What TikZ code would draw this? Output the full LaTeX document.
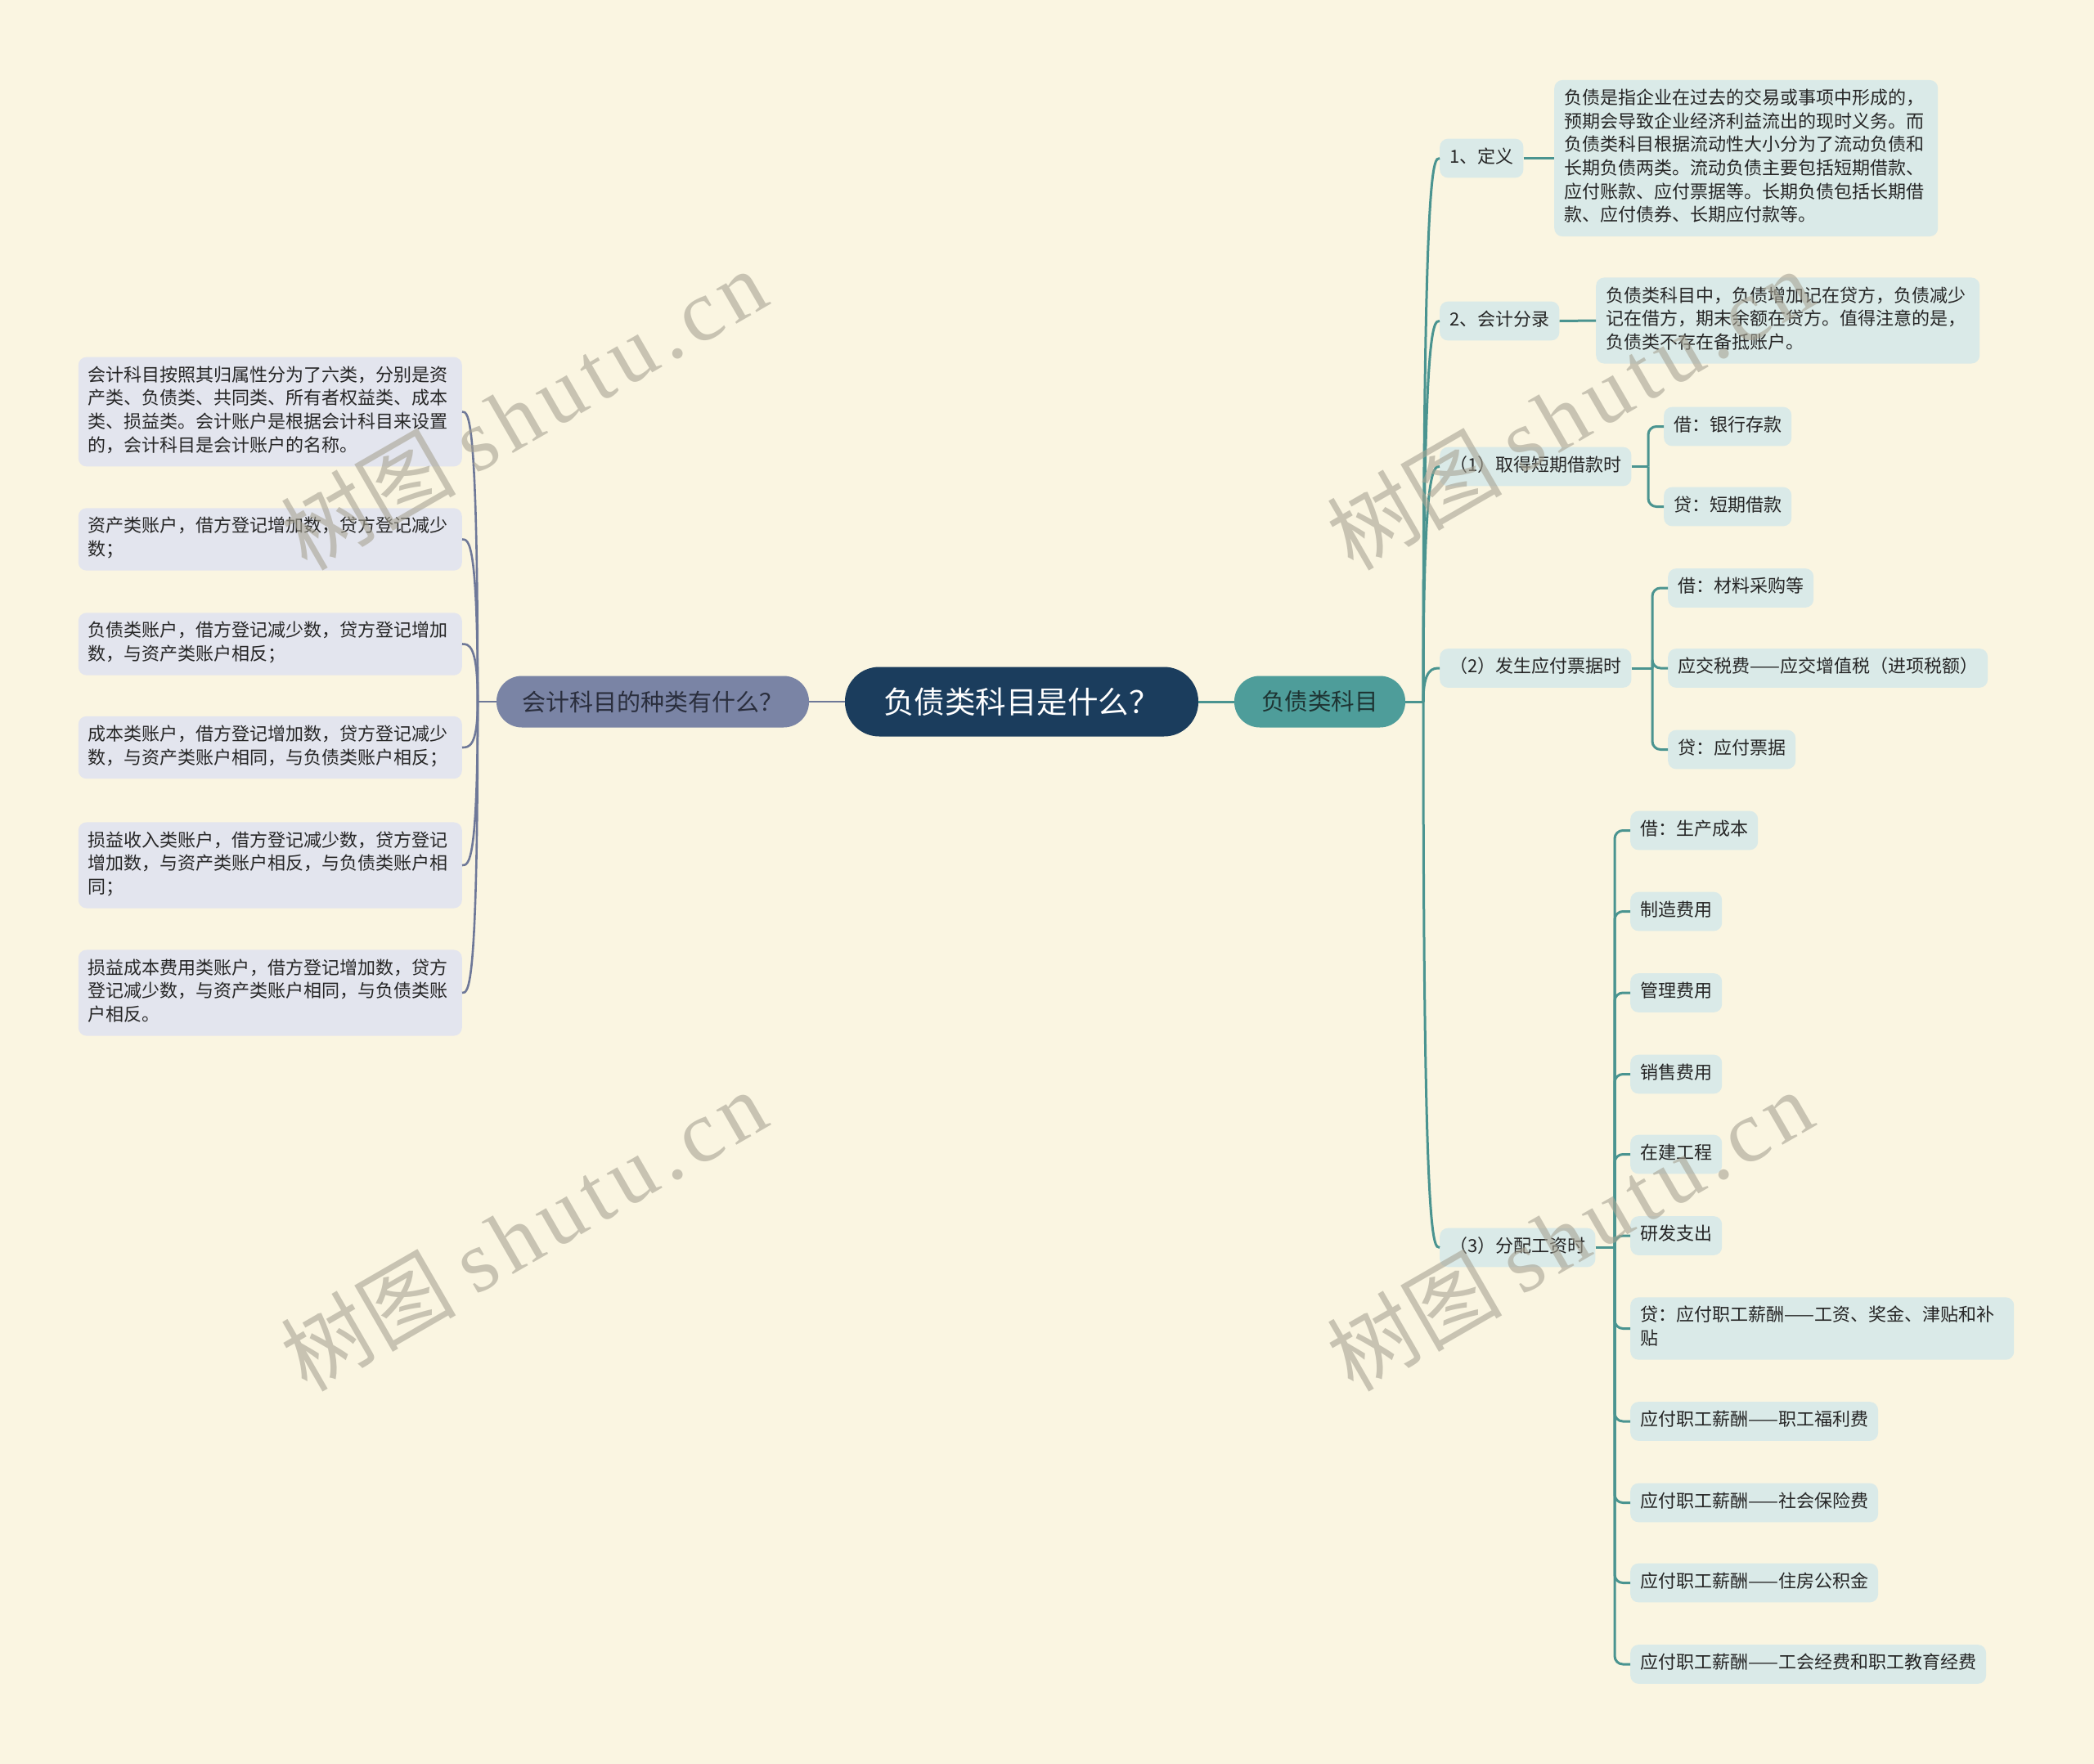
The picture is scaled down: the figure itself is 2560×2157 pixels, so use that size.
\documentclass[tikz,border=0pt]{standalone}
\usepackage{fontspec}
\setmainfont{Noto Sans CJK SC}
\newfontfamily\wmlatin[LetterSpace=8]{Liberation Serif}
\definecolor{bgc}{HTML}{FAF5E1}
\definecolor{cnavy}{HTML}{1B3D5D}
\definecolor{lmain}{HTML}{7A84A5}
\definecolor{lmaintxt}{HTML}{2A2E3D}
\definecolor{rmaintxt}{HTML}{1E3433}
\definecolor{lfill}{HTML}{E3E5EE}
\definecolor{llinec}{HTML}{6E7898}
\definecolor{rmain}{HTML}{4E9D9A}
\definecolor{rfill}{HTML}{DAEAE8}
\definecolor{rlinec}{HTML}{4A9490}
\definecolor{txt}{HTML}{262626}
\definecolor{wmc}{HTML}{A7A393}
\tikzset{
  central/.style={fill=cnavy, text=white, rounded corners=42pt, minimum width=432pt, minimum height=85pt, inner sep=0pt, font=\fontsize{37.5}{42}\selectfont},
  mainL/.style={fill=lmain, text=lmaintxt, rounded corners=31pt, minimum width=382pt, minimum height=63pt, inner sep=0pt, font=\fontsize{29}{33}\selectfont},
  mainR/.style={fill=rmain, text=rmaintxt, rounded corners=31pt, minimum width=209pt, minimum height=63pt, inner sep=0pt, font=\fontsize{28.5}{33}\selectfont},
  boxbase/.style={rounded corners=10pt, inner xsep=12pt, inner ysep=9.5pt, text=txt, font=\fontsize{22}{28.7}\selectfont, execute at begin node=\strut, execute at end node=\strut},
  leafL/.style={boxbase, fill=lfill, align=left, text width=445pt, anchor=east},
  rbox/.style={boxbase, fill=rfill, anchor=west},
  rwide/.style={rbox, align=left, text width=445pt},
  lline/.style={draw=llinec, line width=2.6pt},
  rline/.style={draw=rlinec, line width=3pt},
  wm/.style={rotate=30, text=wmc, text opacity=0.6, font=\fontsize{107}{112}\selectfont, inner sep=0pt}
}
\begin{document}
\begin{tikzpicture}[x=1pt,y=-1pt]
\fill[bgc] (0,0) rectangle (2560,2157);
\useasboundingbox (0,0) rectangle (2560,2157);

% main nodes
\node[central] (root) at (1249,858) {负债类科目是什么？};
\node[mainL] (L) at (798,858) {会计科目的种类有什么？};
\node[mainR] (R) at (1613.5,858) {负债类科目};

% left leaves
\node[leafL] (L1) at (565,503.5) {会计科目按照其归属性分为了六类，分别是资\\产类、负债类、共同类、所有者权益类、成本\\类、损益类。会计账户是根据会计科目来设置\\的，会计科目是会计账户的名称。};
\node[leafL] (L2) at (565,659.5) {资产类账户，借方登记增加数，贷方登记减少\\数；};
\node[leafL] (L3) at (565,787.5) {负债类账户，借方登记减少数，贷方登记增加\\数，与资产类账户相反；};
\node[leafL] (L4) at (565,914) {成本类账户，借方登记增加数，贷方登记减少\\数，与资产类账户相同，与负债类账户相反；};
\node[leafL] (L5) at (565,1058) {损益收入类账户，借方登记减少数，贷方登记\\增加数，与资产类账户相反，与负债类账户相\\同；};
\node[leafL] (L6) at (565,1214) {损益成本费用类账户，借方登记增加数，贷方\\登记减少数，与资产类账户相同，与负债类账\\户相反。};

% right level 1
\node[rbox] (r1) at (1760,193.5) {1、定义};
\node[rwide] (r1t) at (1900,193.5) {负债是指企业在过去的交易或事项中形成的，\\预期会导致企业经济利益流出的现时义务。而\\负债类科目根据流动性大小分为了流动负债和\\长期负债两类。流动负债主要包括短期借款、\\应付账款、应付票据等。长期负债包括长期借\\款、应付债券、长期应付款等。};
\node[rbox] (r2) at (1760,392.5) {2、会计分录};
\node[rwide] (r2t) at (1951,392) {负债类科目中，负债增加记在贷方，负债减少\\记在借方，期末余额在贷方。值得注意的是，\\负债类不存在备抵账户。};
\node[rbox] (r3) at (1760,570.5) {（1）取得短期借款时};
\node[rbox] (r3a) at (2034,521.5) {借：银行存款};
\node[rbox] (r3b) at (2034,619.5) {贷：短期借款};
\node[rbox] (r4) at (1760,817) {（2）发生应付票据时};
\node[rbox] (r4a) at (2039,719) {借：材料采购等};
\node[rbox] (r4b) at (2039,817) {应交税费——应交增值税（进项税额）};
\node[rbox] (r4c) at (2039,916.5) {贷：应付票据};
\node[rbox] (r5) at (1760,1525.5) {（3）分配工资时};
\node[rbox] (s1) at (1993,1015.5) {借：生产成本};
\node[rbox] (s2) at (1993,1114.5) {制造费用};
\node[rbox] (s3) at (1993,1214) {管理费用};
\node[rbox] (s4) at (1993,1313.5) {销售费用};
\node[rbox] (s5) at (1993,1411.5) {在建工程};
\node[rbox] (s6) at (1993,1511) {研发支出};
\node[rwide] (s7) at (1993,1624.5) {贷：应付职工薪酬——工资、奖金、津贴和补\\贴};
\node[rbox] (s8) at (1993,1738) {应付职工薪酬——职工福利费};
\node[rbox] (s9) at (1993,1837.5) {应付职工薪酬——社会保险费};
\node[rbox] (s10) at (1993,1935.5) {应付职工薪酬——住房公积金};
\node[rbox] (s11) at (1993,2035) {应付职工薪酬——工会经费和职工教育经费};

% junctions
\coordinate (jL) at (584,858);
\coordinate (jR) at (1740,858);
\coordinate (j3) at (2015,570.5);
\coordinate (j4) at (2020,817);
\coordinate (j5) at (1974,1525.5);

% connectors
\draw[lline] (root.west) -- (L.east);
\draw[lline] (L.west) -- (jL);
\foreach \n in {L1,L2,L3,L4,L5,L6}
  \draw[lline] (jL) .. controls (jL |- \n.east) and ([xshift=8pt]\n.east) .. (\n.east);

\draw[rline] (root.east) -- (R.west);
\draw[rline] (R.east) -- (jR);
\foreach \n in {r1,r2,r3,r4,r5}
  \draw[rline] (jR) .. controls (jR |- \n.west) and ([xshift=-8pt]\n.west) .. (\n.west);

\draw[rline] (r1.east) -- (r1t.west);
\draw[rline] (r2.east) -- (r2t.west);
\draw[rline] (r3.east) -- (j3);
\foreach \n in {r3a,r3b}
  \draw[rline, rounded corners=10pt] (j3) |- (\n.west);
\draw[rline] (r4.east) -- (j4);
\foreach \n in {r4a,r4b,r4c}
  \draw[rline, rounded corners=10pt] (j4) |- (\n.west);
\draw[rline] (r5.east) -- (j5);
\foreach \n in {s1,s2,s3,s4,s5,s6,s7,s8,s9,s10,s11}
  \draw[rline, rounded corners=10pt] (j5) |- (\n.west);

% watermarks
\node[wm] (w1) at (640,500) {树图 {\wmlatin shutu.cn}};
\node[wm] (w2) at (640,1504) {树图 {\wmlatin shutu.cn}};
\node[wm] (w3) at (1919,500) {树图 {\wmlatin shutu.cn}};
\node[wm] (w4) at (1919,1504) {树图 {\wmlatin shutu.cn}};
\end{tikzpicture}
\end{document}
